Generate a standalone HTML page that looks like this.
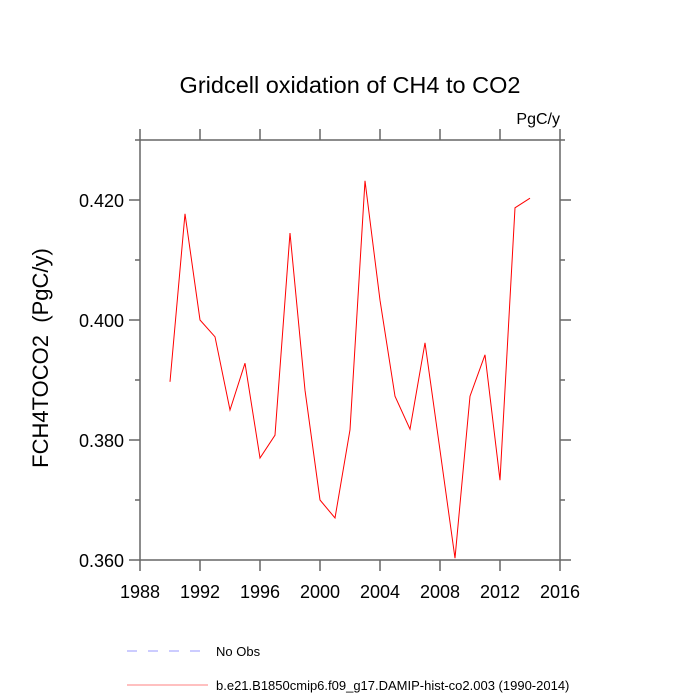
<!DOCTYPE html>
<html><head><meta charset="utf-8"><style>
body{margin:0;background:#fff;}
svg{display:block;font-family:"Liberation Sans",sans-serif;}
</style></head><body>
<svg id="chart" width="700" height="700" viewBox="0 0 700 700">
<text x="350" y="93" text-anchor="middle" font-size="23.5">Gridcell oxidation of CH4 to CO2</text>
<text x="560" y="124" text-anchor="end" font-size="16">PgC/y</text>
<g id="axes"></g>
<rect x="140" y="140" width="420" height="420" fill="none" stroke="#666" stroke-width="1.5"/>
<text transform="translate(48,358) rotate(-90)" text-anchor="middle" font-size="22" xml:space="preserve">FCH4TOCO2  (PgC/y)</text>
<polyline id="series" fill="none" stroke="#ff0000" stroke-width="1"/>
<line x1="127" y1="651" x2="200" y2="651" stroke="#9999ff" stroke-dasharray="10,11"/>
<text x="216" y="656" font-size="13">No Obs</text>
<line x1="127" y1="685" x2="208" y2="685" stroke="#ff8080"/>
<text x="216" y="690" font-size="13">b.e21.B1850cmip6.f09_g17.DAMIP-hist-co2.003 (1990-2014)</text>
</svg>
<script>
const years=[1990,1991,1992,1993,1994,1995,1996,1997,1998,1999,2000,2001,2002,2003,2004,2005,2006,2007,2008,2009,2010,2011,2012,2013,2014];
const values=[0.3897,0.4177,0.4000,0.3972,0.3850,0.3928,0.3770,0.3808,0.4145,0.3883,0.3700,0.3670,0.3817,0.4232,0.4033,0.3873,0.3818,0.3962,0.3783,0.3603,0.3873,0.3942,0.3733,0.4187,0.4203];
const xTicks=[1988,1992,1996,2000,2004,2008,2012,2016];
const yTicks=[0.360,0.380,0.400,0.420];
const yTickLabels=["0.360","0.380","0.400","0.420"];
const X0=140,X1=560,Y0=560,Y1=140,xmin=1988,xmax=2016,ymin=0.360,ymax=0.430;
const sx=v=>X0+(v-xmin)/(xmax-xmin)*(X1-X0);
const sy=v=>Y0-(v-ymin)/(ymax-ymin)*(Y0-Y1);
const NS="http://www.w3.org/2000/svg";
const g=document.getElementById('axes');
function ln(x1,y1,x2,y2,name){const l=document.createElementNS(NS,'line');l.setAttribute('x1',x1);l.setAttribute('y1',y1);l.setAttribute('x2',x2);l.setAttribute('y2',y2);l.setAttribute('stroke','#666');l.setAttribute('stroke-width','1.5');


g.appendChild(l);}
function tx(x,y,s,anchor,name){const t=document.createElementNS(NS,'text');t.setAttribute('x',x);t.setAttribute('y',y);t.setAttribute('text-anchor',anchor);t.setAttribute('font-size','18');t.textContent=s;


g.appendChild(t);}
xTicks.forEach(v=>{const x=sx(v);ln(x,Y0,x,Y0+11,'x-tick');ln(x,Y1,x,Y1-11,'x-tick-top');tx(x,Y0+38,String(v),'middle','x-tick-label');});
for(let k=0;k<=7;k++){const v=ymin+k*0.01;const y=sy(v);const major=k%2===0;const L=major?11:5;ln(X0,y,X0-L,y,'y-tick');ln(X1,y,X1+L,y,'y-tick-right');}
yTicks.forEach((v,i)=>tx(X0-16,sy(v)+7,yTickLabels[i],'end','y-tick-label'));
document.getElementById('series').setAttribute('points',years.map((y,i)=>sx(y)+','+sy(values[i])).join(' '));
</script>
</body></html>
